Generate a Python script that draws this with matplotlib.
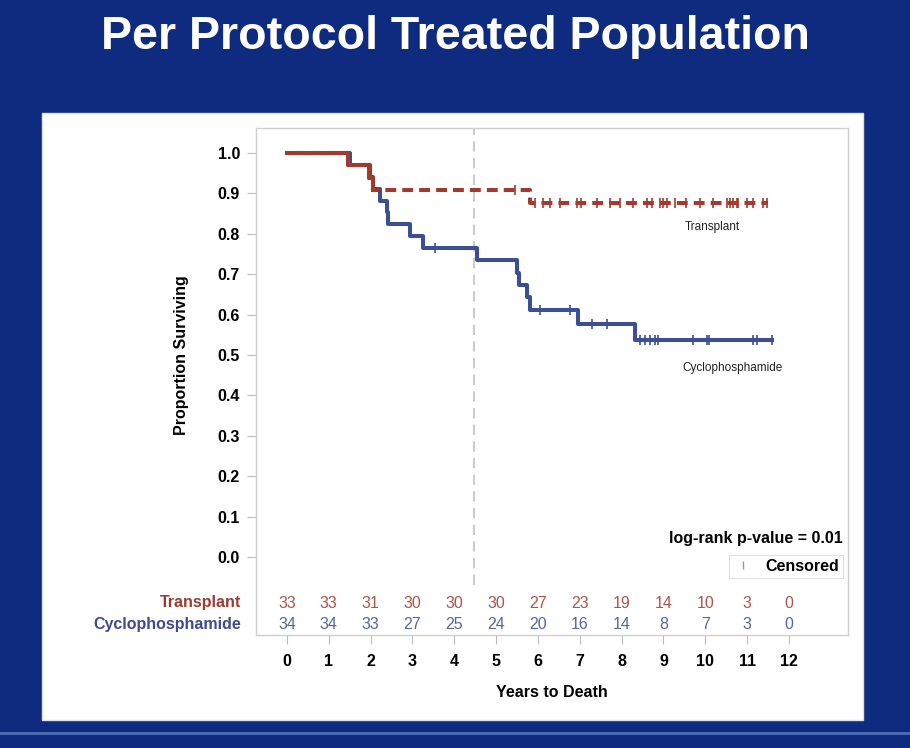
import numpy as np
import matplotlib
matplotlib.use('Agg')
import matplotlib.pyplot as plt
from matplotlib.lines import Line2D
from matplotlib.patches import Rectangle

plt.rcParams['font.family'] = ['Liberation Sans', 'DejaVu Sans']

# Kaplan-Meier steps: time (years) and proportion surviving after each step
tx_times = [0, 1.47, 1.97, 2.05, 5.81, 11.5]
tx_surv = [1.0, 0.970, 0.939, 0.909, 0.876, 0.876]
tx_censor = [5.45, 5.92, 6.12, 6.30, 6.53, 6.93, 7.02, 7.40, 7.72, 7.96,
             8.27, 8.60, 8.72, 8.92, 8.98, 9.08, 9.28, 9.55, 9.87,
             10.19, 10.52, 10.59, 10.67, 10.75, 10.79, 10.99,
             11.15, 11.38, 11.47]

cy_times = [0, 1.50, 1.98, 2.05, 2.22, 2.40, 2.41, 2.94, 3.25, 4.54,
            5.50, 5.55, 5.73, 5.81, 6.96, 8.32, 11.6]
cy_surv = [1.0, 0.971, 0.941, 0.912, 0.882, 0.853, 0.824, 0.794, 0.765, 0.735,
           0.704, 0.674, 0.643, 0.612, 0.578, 0.537, 0.537]
cy_censor = [3.54, 6.05, 6.77, 7.30, 7.65, 8.45, 8.55, 8.68, 8.80, 8.88,
             9.70, 10.03, 10.10, 11.14, 11.23, 11.6]

# numbers at risk
risk_years = list(range(13))
tx_at_risk = [33, 33, 31, 30, 30, 30, 27, 23, 19, 14, 10, 3, 0]
cy_at_risk = [34, 34, 33, 27, 25, 24, 20, 16, 14, 8, 7, 3, 0]

ref_year = 4.47
p_value = 0.01

red = '#a23a2d'
blue = '#3c4e96'
red_txt = '#a8574a'
blue_txt = '#55679d'


def surv_at(times, surv, t):
    i = np.searchsorted(times, t, side='right') - 1
    return np.asarray(surv)[i]


fig = plt.figure(figsize=(9.1, 7.48), dpi=100)
fig.patch.set_facecolor('#0f2b7f')
fig.add_artist(Rectangle((0.0462, 0.0374), 0.902, 0.8115, transform=fig.transFigure,
                         facecolor='white', edgecolor='#dbe3f0', lw=1.0, zorder=0))
fig.add_artist(Line2D([0, 1], [0.02, 0.02], transform=fig.transFigure,
                      color='#4f6fb8', lw=2.0))
fig.text(0.5, 0.951, 'Per Protocol Treated Population', color='white',
         fontsize=33.5, fontweight='bold', ha='center', va='center')

ax = fig.add_axes([0.2813, 0.1511, 0.6505, 0.6778])
ax.set_xlim(-0.74, 13.41)
ax.set_ylim(-0.193, 1.062)

# reference line
ax.plot([ref_year, ref_year], [-0.069, 1.062], color='#cccccc', lw=1.5,
        dashes=(5, 3), zorder=1)

# transplant: dashed after the early drops
ax.step(tx_times, tx_surv, where='post', color=red, lw=2.9, dashes=(2.7, 1.5), zorder=3)
ax.step(tx_times[:4], tx_surv[:4], where='post', color=red, lw=2.9, zorder=3)
ax.plot(tx_censor, surv_at(tx_times, tx_surv, tx_censor), ls='', marker='|',
        ms=7, mew=1.2, color=red, zorder=4)

# cyclophosphamide
ax.step(cy_times, cy_surv, where='post', color=blue, lw=2.9, zorder=2)
ax.plot(cy_censor, surv_at(cy_times, cy_surv, cy_censor), ls='', marker='|',
        ms=7, mew=1.2, color=blue, zorder=4)

ax.text(10.16, 0.817, 'Transplant', fontsize=8.5, ha='center', va='center', color='#222222')
ax.text(10.66, 0.468, 'Cyclophosphamide', fontsize=8.5, ha='center', va='center', color='#222222')

ax.text(13.29, 0.047, 'log-rank p-value = %.2f' % p_value, fontsize=11.5,
        fontweight='bold', ha='right', va='center')
leg = ax.legend(handles=[Line2D([], [], ls='', marker='|', ms=6, mew=1, color='#999999')],
                labels=['Censored'], loc='upper right', bbox_to_anchor=(0.9916, 0.158),
                frameon=True, fancybox=False, edgecolor='#d8d8d8', handlelength=1.2,
                handletextpad=0.8, borderpad=0.25, borderaxespad=0,
                prop={'weight': 'bold', 'size': 11.5})
leg.get_frame().set_linewidth(0.8)

# at-risk table
for yr, n1, n2 in zip(risk_years, tx_at_risk, cy_at_risk):
    ax.text(yr, -0.114, str(n1), fontsize=11.5, ha='center', va='center', color=red_txt)
    ax.text(yr, -0.168, str(n2), fontsize=11.5, ha='center', va='center', color=blue_txt)
fig.text(241 / 910, 1 - 603 / 748, 'Transplant', fontsize=11.5, fontweight='bold',
         ha='right', va='center', color='#9c3b2f')
fig.text(241 / 910, 1 - 625 / 748, 'Cyclophosphamide', fontsize=11.5, fontweight='bold',
         ha='right', va='center', color='#3e4b8c')

ax.set_yticks(np.arange(0, 1.01, 0.1))
ax.set_yticklabels(['%.1f' % v for v in np.arange(0, 1.01, 0.1)])
ax.set_xticks(risk_years)
for s in ax.spines.values():
    s.set_color('#cfcfcf')
    s.set_linewidth(1.0)
ax.tick_params(axis='both', colors='#bbbbbb', length=6.5, width=0.8,
               labelcolor='black', labelsize=11.5)
ax.tick_params(axis='y', pad=5)
ax.tick_params(axis='x', pad=7)
for lab in ax.get_xticklabels() + ax.get_yticklabels():
    lab.set_fontweight('bold')

ax.set_ylabel('Proportion Surviving', fontsize=11.5, fontweight='bold')
ax.yaxis.set_label_coords(-0.113, 0.552)
ax.set_xlabel('Years to Death', fontsize=11.5, fontweight='bold', labelpad=12)

fig.savefig('out.png', dpi=100, facecolor=fig.get_facecolor())
